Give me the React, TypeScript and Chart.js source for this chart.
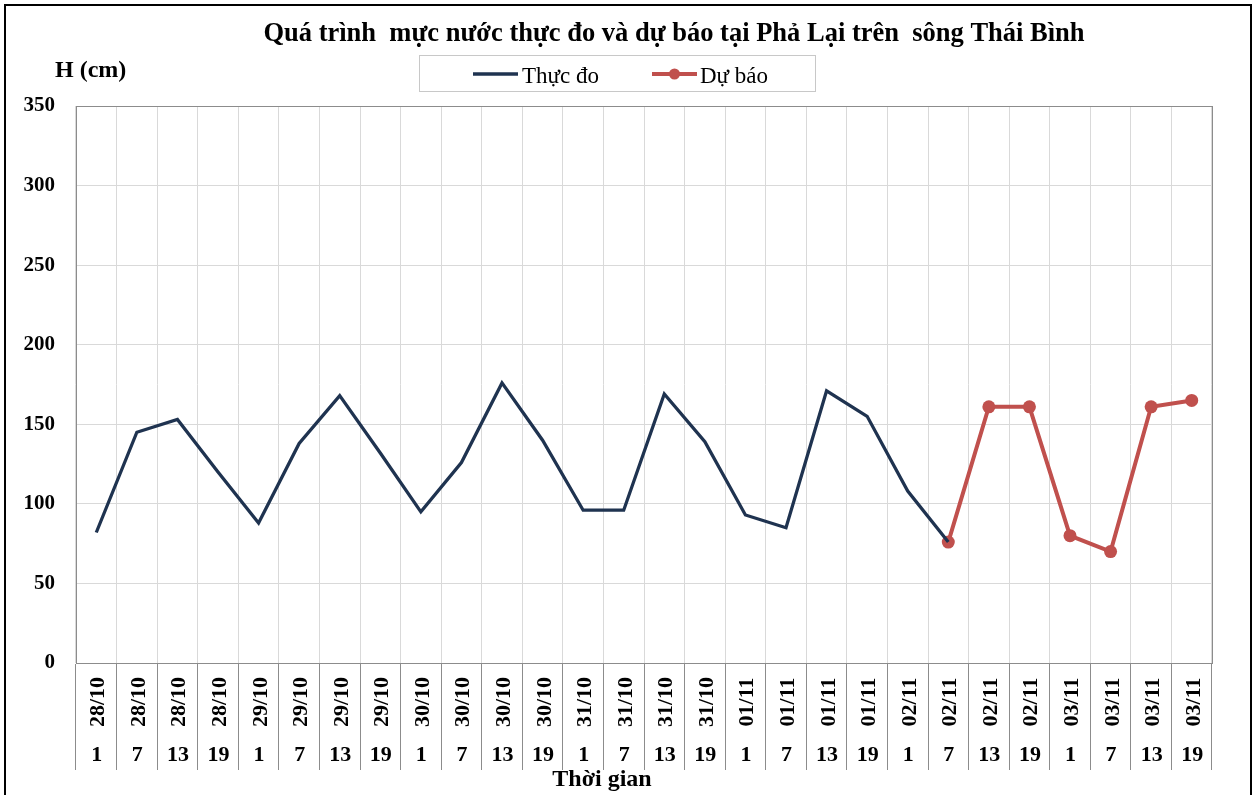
import React, { useEffect, useRef } from 'react';
import { Chart, registerables } from 'chart.js';

Chart.register(...registerables);

const dateLabels = [
  '28/10', '28/10', '28/10', '28/10',
  '29/10', '29/10', '29/10', '29/10',
  '30/10', '30/10', '30/10', '30/10',
  '31/10', '31/10', '31/10', '31/10',
  '01/11', '01/11', '01/11', '01/11',
  '02/11', '02/11', '02/11', '02/11',
  '03/11', '03/11', '03/11', '03/11',
];
const hourLabels = [
  '1', '7', '13', '19', '1', '7', '13', '19', '1', '7', '13', '19', '1', '7',
  '13', '19', '1', '7', '13', '19', '1', '7', '13', '19', '1', '7', '13', '19',
];
const measured: (number | null)[] = [
  82, 145, 153, 120, 88, 138, 168, 132, 95, 126, 176, 140, 96, 96,
  169, 139, 93, 85, 171, 155, 108, 76, null, null, null, null, null, null,
];
const forecast: (number | null)[] = [
  null, null, null, null, null, null, null, null, null, null, null, null, null, null,
  null, null, null, null, null, null, null, 76, 161, 161, 80, 70, 161, 165,
];
const yMin = 0;
const yMax = 350;
const yStep = 50;

const titleText = 'Quá trình  mực nước thực đo và dự báo tại Phả Lại trên  sông Thái Bình';
const yAxisTitle = 'H (cm)';
const xAxisTitle = 'Thời gian';
const seriesNames = ['Thực đo', 'Dự báo'];

const NAVY = '#1f3350';
const RED = '#c0504d';
const SERIF = '"Liberation Serif", "Times New Roman", serif';

const decorPlugin = {
  id: 'decor',
  beforeDatasetsDraw(chart: any) {
    const { ctx, chartArea: a } = chart;
    ctx.save();
    ctx.strokeStyle = '#8c8c8c';
    ctx.lineWidth = 1;
    const l = Math.round(a.left) + 0.5;
    const t = Math.round(a.top) + 0.5;
    const r = Math.round(a.right) + 0.5;
    const b = Math.round(a.bottom) + 0.5;
    ctx.strokeRect(l, t, r - l, b - t);
    ctx.restore();
  },
  afterDraw(chart: any) {
    const { ctx } = chart;
    const xs = chart.scales.x;
    ctx.save();
    ctx.fillStyle = '#000';

    // title
    ctx.font = `bold 26.5px ${SERIF}`;
    ctx.textAlign = 'center';
    ctx.textBaseline = 'alphabetic';
    ctx.fillText(titleText, 674, 41);

    // y axis title
    ctx.font = `bold 24px ${SERIF}`;
    ctx.textAlign = 'left';
    ctx.fillText(yAxisTitle, 55, 77);

    // x axis labels
    ctx.font = `bold 22px ${SERIF}`;
    for (let i = 0; i < dateLabels.length; i++) {
      const x = xs.getPixelForValue(i);
      ctx.save();
      ctx.translate(x + 8, 702);
      ctx.rotate(-Math.PI / 2);
      ctx.textAlign = 'center';
      ctx.textBaseline = 'alphabetic';
      ctx.fillText(dateLabels[i], 0, 0);
      ctx.restore();
      ctx.textAlign = 'center';
      ctx.fillText(hourLabels[i], x + 0.5, 761);
    }

    // x axis title
    ctx.font = `bold 24px ${SERIF}`;
    ctx.textAlign = 'center';
    ctx.fillText(xAxisTitle, 602, 786);

    // legend
    ctx.strokeStyle = '#c8c8c8';
    ctx.lineWidth = 1;
    ctx.strokeRect(419.5, 55.5, 396, 36);
    const ds = chart.data.datasets;
    const items = [
      { x0: 473, x1: 518, tx: 522 },
      { x0: 652, x1: 697, tx: 700 },
    ];
    ctx.font = `23px ${SERIF}`;
    ctx.textAlign = 'left';
    items.forEach((it, i) => {
      const d = ds[i];
      ctx.strokeStyle = d.borderColor;
      ctx.lineWidth = d.borderWidth;
      ctx.beginPath();
      ctx.moveTo(it.x0, 74);
      ctx.lineTo(it.x1, 74);
      ctx.stroke();
      if (d.pointRadius > 0) {
        ctx.fillStyle = d.pointBackgroundColor;
        ctx.beginPath();
        ctx.arc((it.x0 + it.x1) / 2, 74, 5.5, 0, Math.PI * 2);
        ctx.fill();
      }
      ctx.fillStyle = '#000';
      ctx.fillText(d.label, it.tx, 83);
    });
    ctx.restore();
  },
};

export default function App() {
  const ref = useRef<HTMLCanvasElement | null>(null);

  useEffect(() => {
    document.body.style.margin = '0';
    document.body.style.overflow = 'hidden';
    document.documentElement.style.overflow = 'hidden';
    const canvas = ref.current;
    if (!canvas) return;
    const chart = new Chart(canvas, {
      type: 'line',
      data: {
        labels: dateLabels.map((d, i) => `${d} ${hourLabels[i]}`),
        datasets: [
          {
            label: seriesNames[0],
            data: measured,
            borderColor: NAVY,
            backgroundColor: NAVY,
            borderWidth: 3.3,
            pointRadius: 0,
            pointHoverRadius: 0,
            tension: 0,
            spanGaps: false,
          },
          {
            label: seriesNames[1],
            data: forecast,
            borderColor: RED,
            backgroundColor: RED,
            pointBackgroundColor: RED,
            pointBorderColor: RED,
            pointBorderWidth: 0,
            borderWidth: 4,
            pointRadius: 6.5,
            tension: 0,
            spanGaps: false,
          },
        ],
      },
      options: {
        animation: false,
        responsive: false,
        maintainAspectRatio: false,
        devicePixelRatio: 1,
        layout: { padding: { left: 0, right: 44, top: 106, bottom: 0 } },
        plugins: {
          legend: { display: false },
          title: { display: false },
          tooltip: { enabled: false },
        },
        scales: {
          x: {
            type: 'category',
            offset: true,
            grid: {
              offset: true,
              color: '#d9d9d9',
              lineWidth: 1,
              drawTicks: true,
              tickLength: 107,
              tickColor: '#8c8c8c',
              tickWidth: 1,
            },
            border: { display: true, color: '#8c8c8c' },
            ticks: { display: false },
            afterFit: (s: any) => {
              s.height = 132;
            },
          },
          y: {
            min: yMin,
            max: yMax,
            grid: { color: '#d9d9d9', lineWidth: 1, drawTicks: false },
            border: { display: true, color: '#8c8c8c' },
            ticks: {
              stepSize: yStep,
              padding: 21,
              color: '#000',
              font: { family: SERIF, size: 21, weight: 'bold' },
            },
            afterFit: (s: any) => {
              s.width = 76;
            },
          },
        },
      },
      plugins: [decorPlugin],
    } as any);
    return () => chart.destroy();
  }, []);

  return (
    <div style={{ position: 'relative', width: 1256, height: 795, overflow: 'hidden', background: '#fff' }}>
      <canvas ref={ref} width={1256} height={795} style={{ position: 'absolute', left: 0, top: 0, width: 1256, height: 795 }} />
      <div
        style={{
          position: 'absolute',
          left: 4,
          top: 4,
          width: 1248,
          height: 900,
          boxSizing: 'border-box',
          border: '2px solid #000',
          pointerEvents: 'none',
        }}
      />
    </div>
  );
}
